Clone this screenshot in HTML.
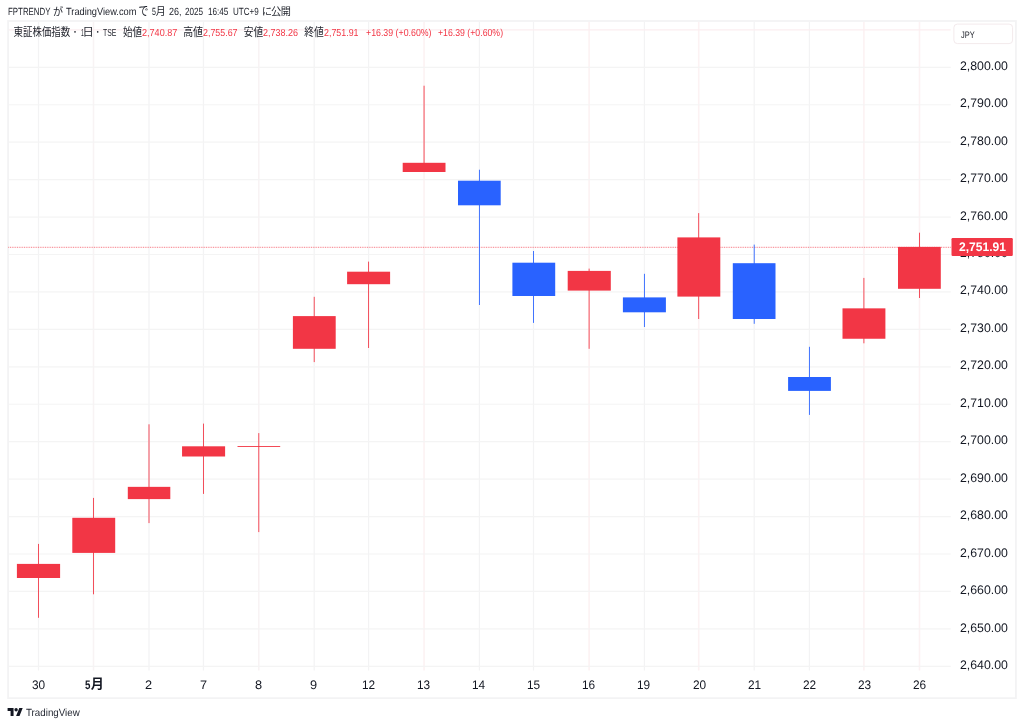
<!DOCTYPE html>
<html lang="ja">
<head>
<meta charset="utf-8">
<title>東証株価指数 · 1日 · TSE — TradingView</title>
<style>
html,body{margin:0;padding:0;background:#fff}
body{width:1024px;height:726px;position:relative;overflow:hidden;font-family:"Liberation Sans",sans-serif;color:#131722}
#chart{position:absolute;left:0;top:0;display:block}
.t{position:absolute;white-space:nowrap;line-height:1;transform-origin:0 0;margin:0;padding:0;text-rendering:geometricPrecision;filter:blur(0.3px)}
.cj{filter:blur(0.3px)}
.cj text{font-family:"Liberation Sans","Noto Sans CJK JP",sans-serif}
</style>
</head>
<body>
<svg id="chart" width="1024" height="726" viewBox="0 0 1024 726" role="img" aria-label="東証株価指数 1日 TSE ローソク足チャート">
<rect x="8.05" y="20.98" width="1007.85" height="677.2" fill="none" stroke="#f3f3f4" stroke-width="1.75"/>
<g stroke="#f4f4f4" stroke-width="1.2" fill="none">
<line x1="38.50" y1="21.9" x2="38.50" y2="670.4" stroke="#f3f3f4" stroke-width="1.25"/>
<line x1="93.50" y1="21.9" x2="93.50" y2="670.4" stroke="#f8f3f4" stroke-width="1.5"/>
<line x1="149.00" y1="21.9" x2="149.00" y2="670.4" stroke="#f3f3f4" stroke-width="1.25"/>
<line x1="203.45" y1="21.9" x2="203.45" y2="670.4" stroke="#f3f3f4" stroke-width="1.25"/>
<line x1="258.80" y1="21.9" x2="258.80" y2="670.4" stroke="#f8f3f4" stroke-width="1.5"/>
<line x1="314.20" y1="21.9" x2="314.20" y2="670.4" stroke="#f3f3f4" stroke-width="1.25"/>
<line x1="368.60" y1="21.9" x2="368.60" y2="670.4" stroke="#f3f3f4" stroke-width="1.25"/>
<line x1="424.05" y1="21.9" x2="424.05" y2="670.4" stroke="#fcf2f3" stroke-width="1.6"/>
<line x1="479.40" y1="21.9" x2="479.40" y2="670.4" stroke="#f3f3f4" stroke-width="1.25"/>
<line x1="533.50" y1="21.9" x2="533.50" y2="670.4" stroke="#f3f3f4" stroke-width="1.25"/>
<line x1="589.10" y1="21.9" x2="589.10" y2="670.4" stroke="#fcf2f3" stroke-width="1.6"/>
<line x1="644.40" y1="21.9" x2="644.40" y2="670.4" stroke="#f3f3f4" stroke-width="1.25"/>
<line x1="698.70" y1="21.9" x2="698.70" y2="670.4" stroke="#fcf2f3" stroke-width="1.6"/>
<line x1="754.20" y1="21.9" x2="754.20" y2="670.4" stroke="#f3f3f4" stroke-width="1.25"/>
<line x1="809.40" y1="21.9" x2="809.40" y2="670.4" stroke="#f3f3f4" stroke-width="1.25"/>
<line x1="863.90" y1="21.9" x2="863.90" y2="670.4" stroke="#fcf2f3" stroke-width="1.6"/>
<line x1="919.50" y1="21.9" x2="919.50" y2="670.4" stroke="#fcf2f3" stroke-width="1.6"/>
<line x1="8.9" y1="29.86" x2="950.7" y2="29.86" stroke="#fbeef0"/>
<line x1="8.9" y1="67.30" x2="950.7" y2="67.30"/>
<line x1="8.9" y1="104.74" x2="950.7" y2="104.74"/>
<line x1="8.9" y1="142.18" x2="950.7" y2="142.18"/>
<line x1="8.9" y1="179.62" x2="950.7" y2="179.62"/>
<line x1="8.9" y1="217.06" x2="950.7" y2="217.06"/>
<line x1="8.9" y1="254.50" x2="950.7" y2="254.50"/>
<line x1="8.9" y1="291.94" x2="950.7" y2="291.94"/>
<line x1="8.9" y1="329.38" x2="950.7" y2="329.38"/>
<line x1="8.9" y1="366.82" x2="950.7" y2="366.82"/>
<line x1="8.9" y1="404.26" x2="950.7" y2="404.26"/>
<line x1="8.9" y1="441.70" x2="950.7" y2="441.70"/>
<line x1="8.9" y1="479.14" x2="950.7" y2="479.14"/>
<line x1="8.9" y1="516.58" x2="950.7" y2="516.58"/>
<line x1="8.9" y1="554.02" x2="950.7" y2="554.02"/>
<line x1="8.9" y1="591.46" x2="950.7" y2="591.46"/>
<line x1="8.9" y1="628.90" x2="950.7" y2="628.90"/>
<line x1="8.9" y1="666.34" x2="950.7" y2="666.34"/>
</g>
<line x1="8.31" y1="247.3" x2="951.5" y2="247.3" stroke="#f23645" stroke-width="0.9" stroke-dasharray="0.875 0.875" opacity="0.8"/>
<g id="candles">
<rect x="38.062" y="543.9" width="0.875" height="73.90" fill="#f23645"/>
<rect x="16.9" y="563.9" width="43.20" height="14.10" fill="#f23645"/>
<rect x="93.062" y="497.9" width="0.875" height="96.40" fill="#f23645"/>
<rect x="72.3" y="517.8" width="42.90" height="35.10" fill="#f23645"/>
<rect x="148.562" y="424.3" width="0.875" height="98.80" fill="#f23645"/>
<rect x="127.8" y="486.85" width="42.50" height="12.25" fill="#f23645"/>
<rect x="203.012" y="423.6" width="0.875" height="70.30" fill="#f23645"/>
<rect x="182.05" y="446.3" width="43.05" height="10.20" fill="#f23645"/>
<rect x="258.363" y="433.1" width="0.875" height="99.00" fill="#f23645"/>
<rect x="237.5" y="446.05" width="42.70" height="0.90" fill="#f23645"/>
<rect x="313.762" y="296.8" width="0.875" height="65.30" fill="#f23645"/>
<rect x="292.9" y="316.1" width="42.80" height="32.70" fill="#f23645"/>
<rect x="368.163" y="261.6" width="0.875" height="86.40" fill="#f23645"/>
<rect x="347.1" y="271.7" width="43.00" height="12.50" fill="#f23645"/>
<rect x="423.613" y="85.7" width="0.875" height="86.30" fill="#f23645"/>
<rect x="402.7" y="162.8" width="42.80" height="9.20" fill="#f23645"/>
<rect x="478.962" y="169.7" width="0.875" height="135.30" fill="#2962ff"/>
<rect x="458.0" y="180.7" width="42.70" height="24.60" fill="#2962ff"/>
<rect x="533.062" y="251.0" width="0.875" height="71.90" fill="#2962ff"/>
<rect x="512.4" y="262.7" width="42.80" height="33.30" fill="#2962ff"/>
<rect x="588.663" y="268.6" width="0.875" height="80.20" fill="#f23645"/>
<rect x="567.7" y="270.9" width="43.10" height="19.70" fill="#f23645"/>
<rect x="643.962" y="273.8" width="0.875" height="53.20" fill="#2962ff"/>
<rect x="622.9" y="297.4" width="43.00" height="14.90" fill="#2962ff"/>
<rect x="698.263" y="213.1" width="0.875" height="105.90" fill="#f23645"/>
<rect x="677.4" y="237.4" width="42.90" height="59.20" fill="#f23645"/>
<rect x="753.763" y="244.6" width="0.875" height="79.20" fill="#2962ff"/>
<rect x="732.8" y="263.2" width="42.70" height="55.80" fill="#2962ff"/>
<rect x="808.962" y="346.8" width="0.875" height="68.10" fill="#2962ff"/>
<rect x="788.1" y="377.0" width="42.80" height="13.90" fill="#2962ff"/>
<rect x="863.462" y="277.9" width="0.875" height="65.40" fill="#f23645"/>
<rect x="842.5" y="308.35" width="42.90" height="30.40" fill="#f23645"/>
<rect x="919.062" y="232.7" width="0.875" height="65.30" fill="#f23645"/>
<rect x="898.0" y="246.9" width="42.80" height="41.90" fill="#f23645"/>
</g>
<rect x="953.9" y="24.1" width="58.7" height="19.5" rx="3.5" fill="#fff" stroke="#f3eaec" stroke-width="1"/>
<g transform="translate(7.6,708.0) scale(0.4254,0.4389) translate(0,-4)" fill="#131722"><path d="M14 22H7V11H0V4h14v18zM28 22h-8l7.5-18h8L28 22z"/><circle cx="20" cy="8" r="4"/></g>
<g class="cj">
<text transform="translate(53.05,15.51) scale(0.8995,1)" font-size="11.24" fill="#1c1f28">が</text>
<text transform="translate(138.52,15.48) scale(0.8729,1)" font-size="11.33" fill="#1c1f28">で</text>
<text transform="translate(155.86,15.03) scale(0.9309,1)" font-size="10.71" fill="#1c1f28">月</text>
<text transform="translate(261.72,15.36) scale(0.9981,1)" font-size="10.34" fill="#1c1f28">に</text>
<text transform="translate(271.08,14.85) scale(1.0299,1)" font-size="10.04" fill="#1c1f28">公</text>
<text transform="translate(280.70,14.89) scale(1.0140,1)" font-size="10.02" fill="#1c1f28">開</text>
<text transform="translate(13.51,35.97) scale(0.8419,1)" font-size="11.26" fill="#1c1f28">東証株価指数</text>
<circle cx="75.0" cy="31.9" r="0.8" fill="#1c1f28"/>
<text transform="translate(82.61,35.74) scale(1.0199,1)" font-size="11.06" fill="#1c1f28">日</text>
<circle cx="97.7" cy="31.9" r="0.8" fill="#1c1f28"/>
<text transform="translate(122.88,35.97) scale(0.8526,1)" font-size="11.26" fill="#1c1f28">始値</text>
<text transform="translate(183.15,36.00) scale(0.8831,1)" font-size="11.29" fill="#1c1f28">高値</text>
<text transform="translate(243.85,35.98) scale(0.8580,1)" font-size="11.27" fill="#1c1f28">安値</text>
<text transform="translate(304.26,35.94) scale(0.8692,1)" font-size="11.24" fill="#1c1f28">終値</text>
<text transform="translate(90.82,688.37) scale(1.0438,1)" font-size="12.56" font-weight="700" fill="#131722">月</text>
</g>
</svg>
<div class="t" style="left:7.90px;top:8px;font-size:10.4px;transform:scaleX(0.7580);color:#1c1f28">FPTRENDY</div>
<div class="t" style="left:66.00px;top:8px;font-size:10.4px;transform:scaleX(0.8896);color:#1c1f28">TradingView.com</div>
<div class="t" style="left:151.75px;top:8px;font-size:10.4px;transform:scaleX(0.6750);color:#1c1f28">5</div>
<div class="t" style="left:168.50px;top:8px;font-size:10.4px;transform:scaleX(0.8630);color:#1c1f28">26,</div>
<div class="t" style="left:184.90px;top:8px;font-size:10.4px;transform:scaleX(0.7842);color:#1c1f28">2025</div>
<div class="t" style="left:208.10px;top:8px;font-size:10.4px;transform:scaleX(0.7818);color:#1c1f28">16:45</div>
<div class="t" style="left:233.00px;top:8px;font-size:10.4px;transform:scaleX(0.7749);color:#1c1f28">UTC+9</div>
<div class="t" style="left:80.60px;top:29px;font-size:10.2px;transform:scaleX(0.5000);color:#1c1f28">1</div>
<div class="t" style="left:102.90px;top:29px;font-size:10.2px;transform:scaleX(0.6744);color:#1c1f28">TSE</div>
<div class="t" style="left:142.10px;top:29px;font-size:10.2px;transform:scaleX(0.8902);color:#f23645">2,740.87</div>
<div class="t" style="left:203.00px;top:29px;font-size:10.2px;transform:scaleX(0.8702);color:#f23645">2,755.67</div>
<div class="t" style="left:263.20px;top:29px;font-size:10.2px;transform:scaleX(0.8802);color:#f23645">2,738.26</div>
<div class="t" style="left:323.70px;top:29px;font-size:10.2px;transform:scaleX(0.8702);color:#f23645">2,751.91</div>
<div class="t" style="left:366.10px;top:29px;font-size:10.2px;transform:scaleX(0.8636);color:#f23645">+16.39 (+0.60%)</div>
<div class="t" style="left:438.00px;top:29px;font-size:10.2px;transform:scaleX(0.8569);color:#f23645">+16.39 (+0.60%)</div>
<div class="t" style="left:960.90px;top:31px;font-size:9.5px;transform:scaleX(0.7851);color:#1c1f28">JPY</div>
<div class="t" style="left:959.60px;top:60px;font-size:12.4px;transform:scaleX(0.9930)">2,800.00</div>
<div class="t" style="left:959.60px;top:97px;font-size:12.4px;transform:scaleX(0.9930)">2,790.00</div>
<div class="t" style="left:959.60px;top:135px;font-size:12.4px;transform:scaleX(0.9930)">2,780.00</div>
<div class="t" style="left:959.60px;top:172px;font-size:12.4px;transform:scaleX(0.9930)">2,770.00</div>
<div class="t" style="left:959.60px;top:210px;font-size:12.4px;transform:scaleX(0.9930)">2,760.00</div>
<div class="t" style="left:959.60px;top:247px;font-size:12.4px;transform:scaleX(0.9930)">2,750.00</div>
<div class="t" style="left:959.60px;top:284px;font-size:12.4px;transform:scaleX(0.9930)">2,740.00</div>
<div class="t" style="left:959.60px;top:322px;font-size:12.4px;transform:scaleX(0.9930)">2,730.00</div>
<div class="t" style="left:959.60px;top:359px;font-size:12.4px;transform:scaleX(0.9930)">2,720.00</div>
<div class="t" style="left:959.60px;top:397px;font-size:12.4px;transform:scaleX(0.9930)">2,710.00</div>
<div class="t" style="left:959.60px;top:434px;font-size:12.4px;transform:scaleX(0.9930)">2,700.00</div>
<div class="t" style="left:959.60px;top:472px;font-size:12.4px;transform:scaleX(0.9930)">2,690.00</div>
<div class="t" style="left:959.60px;top:509px;font-size:12.4px;transform:scaleX(0.9930)">2,680.00</div>
<div class="t" style="left:959.60px;top:547px;font-size:12.4px;transform:scaleX(0.9930)">2,670.00</div>
<div class="t" style="left:959.60px;top:584px;font-size:12.4px;transform:scaleX(0.9930)">2,660.00</div>
<div class="t" style="left:959.60px;top:622px;font-size:12.4px;transform:scaleX(0.9930)">2,650.00</div>
<div class="t" style="left:959.60px;top:659px;font-size:12.4px;transform:scaleX(0.9930)">2,640.00</div>
<svg class="pl" width="64" height="20" viewBox="951 237 64 20" style="position:absolute;left:951px;top:237px"><rect x="951.5" y="238.1" width="61.3" height="17.9" rx="1.2" fill="#f23645"/></svg>
<div class="t" style="left:959.30px;top:241px;font-size:12.4px;transform:scaleX(0.9743);font-weight:700;color:#ffffff">2,751.91</div>
<div class="t" style="left:31.72px;top:679px;font-size:12.4px;transform:scaleX(0.9550)">30</div>
<div class="t" style="left:144.89px;top:679px;font-size:12.4px;transform:scaleX(1.0300)">2</div>
<div class="t" style="left:199.96px;top:679px;font-size:12.4px;transform:scaleX(1.0300)">7</div>
<div class="t" style="left:255.03px;top:679px;font-size:12.4px;transform:scaleX(1.0300)">8</div>
<div class="t" style="left:310.10px;top:679px;font-size:12.4px;transform:scaleX(1.0300)">9</div>
<div class="t" style="left:362.14px;top:679px;font-size:12.4px;transform:scaleX(0.9550)">12</div>
<div class="t" style="left:417.21px;top:679px;font-size:12.4px;transform:scaleX(0.9550)">13</div>
<div class="t" style="left:472.28px;top:679px;font-size:12.4px;transform:scaleX(0.9550)">14</div>
<div class="t" style="left:527.35px;top:679px;font-size:12.4px;transform:scaleX(0.9550)">15</div>
<div class="t" style="left:582.42px;top:679px;font-size:12.4px;transform:scaleX(0.9550)">16</div>
<div class="t" style="left:637.49px;top:679px;font-size:12.4px;transform:scaleX(0.9550)">19</div>
<div class="t" style="left:692.56px;top:679px;font-size:12.4px;transform:scaleX(0.9550)">20</div>
<div class="t" style="left:747.63px;top:679px;font-size:12.4px;transform:scaleX(0.9550)">21</div>
<div class="t" style="left:802.70px;top:679px;font-size:12.4px;transform:scaleX(0.9550)">22</div>
<div class="t" style="left:857.77px;top:679px;font-size:12.4px;transform:scaleX(0.9550)">23</div>
<div class="t" style="left:912.84px;top:679px;font-size:12.4px;transform:scaleX(0.9550)">26</div>
<div class="t" style="left:84.60px;top:679px;font-size:12.4px;transform:scaleX(0.7857);font-weight:700">5</div>
<div class="t" style="left:26.00px;top:709px;font-size:10.4px;transform:scaleX(0.9398);color:#1e222d">TradingView</div>
</body>
</html>
